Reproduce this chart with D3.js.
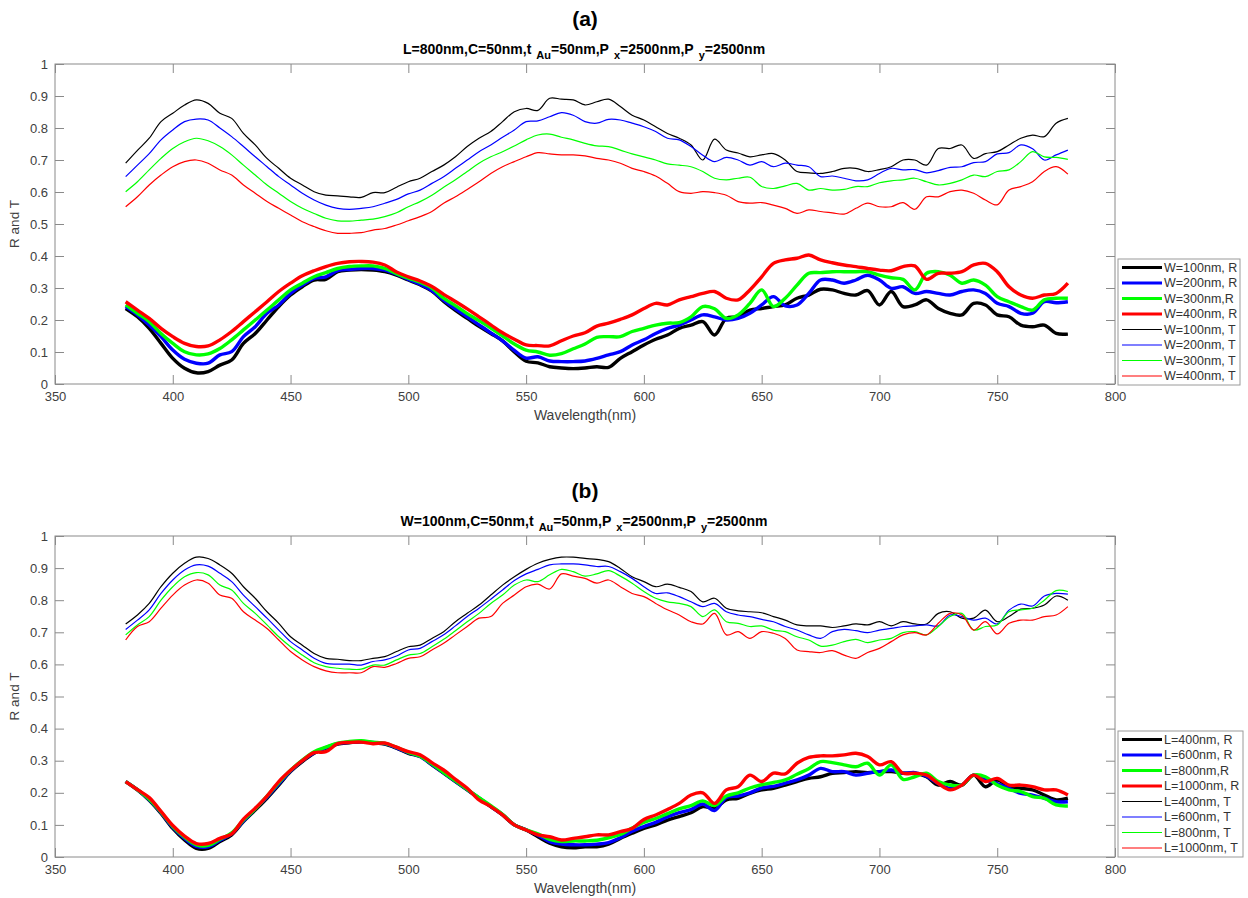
<!DOCTYPE html>
<html>
<head>
<meta charset="utf-8">
<script src="https://cdn.jsdelivr.net/npm/d3@7"></script>
<style>
body { margin: 0; background: #fff; }
svg { display: block; font-family: "Liberation Sans", Arial, sans-serif; }
</style>
</head>
<body>
<div id="fig"></div>
<script>
"use strict";
// longueurs d'onde communes (nm)
const wavelength = [380,385,390,395,400,405,410,415,420,425,430,435,440,445,450,455,460,465,470,475,
  480,485,490,495,500,505,510,515,520,525,530,535,540,545,550,555,560,565,570,575,
  580,585,590,595,600,605,610,615,620,625,630,635,640,645,650,655,660,665,670,675,
  680,685,690,695,700,705,710,715,720,725,730,735,740,745,750,755,760,765,770,775,780];
const xTicks = [350,400,450,500,550,600,650,700,750,800];
const yTicks = [0,0.1,0.2,0.3,0.4,0.5,0.6,0.7,0.8,0.9,1];
const yTickLabels = ["0","0.1","0.2","0.3","0.4","0.5","0.6","0.7","0.8","0.9","1"];
const seriesColors = ["#000000","#0000ff","#00ff00","#ff0000"];

// (a) variation de W
const legendA = ["W=100nm, R","W=200nm, R","W=300nm,R","W=400nm, R","W=100nm, T","W=200nm, T","W=300nm, T","W=400nm, T"];
const subtitleA = [["L=800nm,C=50nm,t",0],["Au",1],["=50nm,P",0],["x",1],["=2500nm,P",0],["y",1],["=2500nm",0]];
const wR100 = [.236,.21,.174,.127,.08,.049,.035,.039,.059,.075,.127,.158,.20,.242,.278,.304,.325,.327,.351,.356,
  .358,.356,.351,.34,.325,.31,.29,.258,.23,.205,.18,.158,.135,.1,.071,.066,.054,.05,.048,.05,
  .054,.052,.08,.101,.122,.14,.153,.174,.184,.195,.153,.205,.21,.231,.236,.242,.247,.268,.278,.296,
  .294,.283,.278,.292,.247,.289,.242,.247,.263,.236,.221,.216,.252,.247,.216,.21,.184,.179,.184,.158,.156];
const wR200 = [.242,.216,.184,.148,.106,.077,.065,.065,.091,.101,.148,.179,.221,.247,.283,.309,.33,.335,.354,.358,
  .361,.361,.356,.343,.327,.312,.292,.262,.235,.21,.185,.16,.135,.105,.081,.085,.072,.07,.07,.072,
  .08,.091,.101,.122,.138,.158,.174,.184,.20,.216,.21,.20,.205,.221,.247,.273,.244,.247,.283,.325,
  .325,.315,.325,.34,.325,.299,.304,.283,.289,.283,.278,.289,.294,.283,.252,.242,.221,.221,.257,.254,.257];
const wR300 = [.247,.221,.195,.158,.127,.101,.091,.094,.111,.138,.169,.20,.231,.263,.294,.315,.335,.348,.361,.367,
  .369,.369,.361,.345,.331,.318,.30,.268,.245,.22,.198,.175,.15,.125,.106,.10,.09,.095,.11,.125,
  .146,.148,.148,.164,.174,.184,.19,.192,.21,.242,.235,.205,.216,.252,.294,.242,.268,.309,.346,.348,
  .351,.351,.351,.351,.34,.332,.327,.294,.346,.351,.34,.315,.325,.309,.273,.257,.242,.231,.263,.268,.268];
const wR400 = [.257,.231,.205,.174,.148,.127,.117,.119,.138,.164,.195,.226,.257,.289,.315,.338,.354,.367,.377,.382,
  .383,.381,.372,.35,.335,.322,.305,.28,.258,.235,.21,.185,.16,.14,.122,.12,.119,.135,.15,.16,
  .181,.19,.202,.216,.236,.252,.247,.263,.273,.283,.289,.268,.263,.294,.335,.377,.388,.393,.403,.388,
  .379,.372,.367,.361,.356,.354,.367,.369,.327,.346,.346,.351,.372,.377,.351,.304,.278,.268,.278,.283,.315];
const wT100 = [.69,.73,.768,.82,.846,.872,.888,.877,.846,.83,.783,.747,.705,.674,.643,.622,.601,.59,.588,.585,
  .583,.598,.598,.615,.632,.643,.664,.684,.71,.742,.768,.789,.82,.851,.861,.855,.893,.89,.888,.872,
  .882,.89,.867,.84,.825,.804,.783,.768,.747,.70,.765,.731,.722,.71,.716,.72,.70,.664,.66,.658,
  .664,.674,.674,.664,.67,.679,.70,.70,.684,.736,.736,.747,.705,.72,.726,.747,.768,.778,.773,.815,.83];
const wT200 = [.648,.684,.72,.763,.794,.82,.828,.825,.80,.773,.742,.71,.679,.648,.622,.596,.575,.559,.549,.546,
  .549,.554,.565,.577,.594,.606,.627,.648,.674,.70,.726,.747,.771,.794,.82,.822,.835,.848,.84,.82,
  .815,.827,.825,.815,.804,.789,.768,.763,.742,.715,.695,.708,.70,.684,.695,.679,.69,.684,.679,.648,
  .65,.643,.635,.638,.658,.674,.669,.67,.66,.667,.677,.679,.692,.695,.719,.723,.747,.735,.70,.716,.731];
const wT300 = [.601,.632,.669,.705,.736,.757,.768,.76,.742,.716,.684,.653,.622,.596,.57,.549,.533,.518,.51,.509,
  .512,.515,.523,.535,.554,.57,.59,.615,.638,.664,.69,.71,.726,.744,.763,.778,.781,.771,.763,.752,
  .744,.742,.731,.719,.71,.70,.688,.684,.679,.664,.643,.638,.643,.646,.617,.611,.619,.627,.606,.611,
  .606,.608,.617,.617,.629,.635,.638,.643,.632,.622,.627,.638,.653,.648,.664,.669,.695,.726,.71,.708,.702];
const wT400 = [.554,.585,.622,.653,.679,.695,.70,.69,.669,.653,.622,.596,.57,.549,.528,.507,.492,.479,.471,.471,
  .473,.481,.486,.497,.51,.523,.539,.565,.585,.608,.632,.658,.679,.695,.71,.723,.719,.716,.716,.713,
  .705,.70,.69,.674,.664,.65,.627,.601,.596,.601,.598,.59,.57,.565,.567,.559,.549,.533,.544,.539,
  .535,.531,.549,.565,.554,.554,.567,.546,.585,.585,.601,.606,.596,.575,.56,.606,.617,.632,.664,.679,.656];

// (b) variation de L
const legendB = ["L=400nm, R","L=600nm, R","L=800nm,R","L=1000nm, R","L=400nm, T","L=600nm, T","L=800nm, T","L=1000nm, T"];
const subtitleB = [["W=100nm,C=50nm,t",0],["Au",1],["=50nm,P",0],["x",1],["=2500nm,P",0],["y",1],["=2500nm",0]];
const lR400 = [.235,.209,.177,.136,.089,.053,.027,.027,.048,.069,.11,.146,.183,.224,.266,.297,.323,.339,.352,.356,
  .359,.356,.352,.339,.323,.313,.287,.261,.235,.209,.183,.157,.131,.10,.084,.063,.043,.032,.029,.032,
  .032,.04,.058,.074,.089,.10,.115,.126,.138,.157,.152,.178,.183,.198,.209,.214,.224,.235,.245,.25,
  .261,.263,.266,.263,.266,.266,.261,.261,.25,.224,.235,.224,.255,.219,.24,.219,.214,.209,.193,.178,.183];
const lR600 = [.235,.21,.178,.138,.092,.058,.033,.032,.052,.073,.112,.15,.187,.228,.268,.30,.325,.341,.353,.357,
  .36,.357,.353,.34,.325,.313,.288,.262,.236,.21,.184,.158,.132,.10,.085,.068,.048,.04,.038,.038,
  .04,.045,.06,.08,.095,.108,.125,.138,.148,.165,.145,.185,.19,.20,.215,.22,.23,.24,.255,.276,
  .266,.266,.255,.261,.266,.271,.261,.263,.252,.229,.214,.224,.255,.24,.229,.214,.198,.193,.183,.172,.172];
const lR800 = [.235,.21,.18,.14,.095,.062,.038,.036,.055,.075,.115,.15,.19,.232,.27,.302,.328,.342,.355,.36,
  .362,.358,.354,.342,.326,.314,.29,.263,.237,.211,.185,.16,.133,.10,.085,.072,.055,.048,.05,.05,
  .052,.06,.07,.09,.108,.12,.135,.15,.16,.175,.16,.19,.20,.215,.225,.232,.24,.258,.275,.297,
  .294,.287,.281,.292,.255,.287,.242,.25,.261,.235,.224,.224,.255,.25,.224,.209,.204,.188,.183,.162,.159];
const lR1000 = [.235,.21,.185,.142,.098,.065,.042,.042,.058,.072,.118,.152,.19,.235,.27,.30,.325,.328,.353,.357,
  .358,.353,.355,.342,.328,.318,.294,.271,.242,.214,.178,.157,.131,.10,.084,.069,.063,.053,.058,.063,
  .069,.069,.079,.089,.117,.131,.148,.167,.193,.20,.167,.209,.219,.255,.235,.261,.259,.292,.31,.315,
  .315,.318,.323,.313,.287,.297,.261,.261,.255,.229,.209,.224,.255,.235,.245,.224,.224,.219,.209,.209,.193];
const lT400 = [.726,.754,.79,.842,.884,.915,.934,.93,.91,.884,.842,.806,.764,.728,.686,.66,.634,.619,.616,.612,
  .612,.619,.624,.64,.655,.66,.681,.702,.733,.759,.785,.816,.847,.873,.896,.915,.927,.934,.934,.93,
  .927,.92,.899,.873,.858,.842,.85,.84,.827,.795,.806,.775,.767,.764,.761,.749,.738,.723,.72,.72,
  .715,.72,.726,.723,.733,.72,.733,.726,.726,.759,.764,.744,.744,.769,.733,.749,.772,.775,.785,.813,.80];
const lT600 = [.709,.738,.77,.821,.863,.894,.91,.906,.884,.858,.816,.78,.744,.707,.671,.645,.619,.603,.601,.601,
  .598,.609,.614,.626,.645,.65,.671,.692,.72,.749,.775,.803,.832,.861,.882,.896,.91,.913,.913,.91,
  .905,.905,.889,.868,.842,.821,.823,.811,.795,.78,.79,.764,.754,.749,.74,.733,.718,.707,.692,.681,
  .702,.709,.705,.699,.707,.712,.718,.72,.723,.72,.754,.749,.738,.744,.726,.769,.788,.782,.813,.821,.819];
const lT800 = [.692,.723,.749,.80,.842,.873,.886,.879,.847,.832,.79,.759,.723,.686,.655,.629,.605,.593,.588,.585,
  .585,.598,.598,.614,.629,.634,.655,.678,.705,.733,.759,.79,.816,.847,.863,.858,.879,.896,.889,.875,
  .882,.892,.875,.853,.827,.806,.795,.79,.78,.749,.77,.733,.728,.718,.72,.707,.702,.686,.676,.657,
  .66,.671,.678,.668,.676,.681,.699,.702,.692,.718,.749,.759,.707,.718,.723,.764,.77,.775,.80,.83,.827];
const lT1000 = [.676,.718,.733,.775,.816,.847,.863,.853,.816,.806,.764,.738,.712,.676,.64,.614,.593,.58,.574,.574,
  .574,.593,.591,.603,.619,.624,.645,.666,.692,.718,.744,.749,.79,.816,.842,.85,.835,.882,.875,.868,
  .853,.863,.842,.821,.811,.79,.77,.754,.733,.726,.759,.692,.702,.681,.702,.697,.681,.645,.64,.637,
  .643,.629,.619,.637,.65,.671,.692,.699,.692,.728,.759,.754,.707,.733,.695,.728,.738,.738,.749,.754,.78];

const svg = d3.select("#fig").append("svg")
  .attr("width", 1248).attr("height", 898);

class panneauSpectre {
  constructor(params) {
    var me = this;
    this.top = params.top;
    this.height = params.height;
    this.g = svg.append("g").attr("transform", `translate(0,${me.top})`);
    this.x = d3.scaleLinear().domain([350, 800]).range([55, 1115]);
    this.y = d3.scaleLinear().domain([0, 1]).range([me.height, 0]);

    this.init = function () {
      var g = me.g, x = me.x, y = me.y;
      //cadre
      g.append("rect")
        .attr("x", x(350)).attr("y", y(1))
        .attr("width", x(800) - x(350)).attr("height", y(0) - y(1))
        .attr("fill", "#fff").attr("stroke", "#8a8a8a").attr("stroke-width", 1);

      //axes avec graduations intérieures
      const styleAxe = sel => {
        sel.select(".domain").remove();
        sel.selectAll(".tick line").attr("stroke", "#8a8a8a");
        sel.selectAll(".tick text").attr("fill", "#404040")
          .attr("font-family", '"Liberation Sans", Arial, sans-serif').attr("font-size", 13);
      };
      g.append("g").attr("transform", `translate(0,${y(0)})`)
        .call(d3.axisBottom(x).tickValues(xTicks).tickSize(-9).tickPadding(8).tickFormat(d3.format("d")))
        .call(styleAxe);
      g.append("g").attr("transform", `translate(0,${y(1)})`)
        .call(d3.axisTop(x).tickValues(xTicks).tickSize(-9).tickFormat(""))
        .call(styleAxe);
      g.append("g").attr("transform", `translate(${x(350)},0)`)
        .call(d3.axisLeft(y).tickValues(yTicks).tickSize(-9).tickPadding(7).tickFormat((d, i) => yTickLabels[i]))
        .call(styleAxe);
      g.append("g").attr("transform", `translate(${x(800)},0)`)
        .call(d3.axisRight(y).tickValues(yTicks).tickSize(-9).tickFormat(""))
        .call(styleAxe);

      //titres
      g.append("text")
        .attr("x", 585).attr("y", -38)
        .attr("text-anchor", "middle").attr("font-weight", "bold").attr("font-size", 21)
        .attr("fill", "#000").text(params.letter);
      let sous = g.append("text")
        .attr("x", 584).attr("y", -10)
        .attr("text-anchor", "middle").attr("font-weight", "bold").attr("font-size", 14)
        .attr("fill", "#000");
      sous.selectAll("tspan").data(params.subtitle).join("tspan")
        .attr("font-size", d => d[1] ? 11 : 14)
        .attr("dx", d => d[1] ? 5 : 0)
        .attr("dy", (d, i) => d[1] ? 5 : (i > 0 ? -5 : 0))
        .text(d => d[0]);

      g.append("text")
        .attr("x", 585).attr("y", y(0) + 36)
        .attr("text-anchor", "middle").attr("font-size", 14).attr("fill", "#404040")
        .text("Wavelength(nm)");
      g.append("text")
        .attr("transform", `translate(19,${(y(0) + y(1)) / 2}) rotate(-90)`)
        .attr("text-anchor", "middle").attr("font-size", 13.5).attr("fill", "#404040")
        .text("R and T");

      //courbes
      const ligne = d3.line()
        .x(d => x(d[0])).y(d => y(d[1]))
        .curve(d3.curveCatmullRom.alpha(0.5));
      params.series.forEach((vals, i) => {
        g.append("path")
          .datum(wavelength.map((w, j) => [w, vals[j]]))
          .attr("fill", "none")
          .attr("stroke", seriesColors[i % 4])
          .attr("stroke-width", i < 4 ? 3.4 : 1.2)
          .attr("stroke-linejoin", "round")
          .attr("d", ligne);
      });

      //légende
      let lg = g.append("g").attr("transform", `translate(1118,${params.legendY})`);
      lg.append("rect")
        .attr("width", params.legendW).attr("height", 126)
        .attr("fill", "#fff").attr("stroke", "#9a9a9a");
      let item = lg.selectAll(".leg").data(params.legend).join("g")
        .attr("class", "leg")
        .attr("transform", (d, i) => `translate(0,${8.5 + i * 15.5})`);
      item.append("line")
        .attr("x1", 4).attr("x2", 44)
        .attr("stroke", (d, i) => seriesColors[i % 4])
        .attr("stroke-width", (d, i) => i < 4 ? 3 : 1.2);
      item.append("text")
        .attr("x", 46).attr("dy", "0.35em")
        .attr("font-size", 12.5).attr("fill", "#333")
        .text(d => d);
    };

    this.init();
  }
}

new panneauSpectre({
  top: 64, height: 320, letter: "(a)", subtitle: subtitleA, legend: legendA,
  legendY: 259 - 64, legendW: 122,
  series: [wR100, wR200, wR300, wR400, wT100, wT200, wT300, wT400]
});
new panneauSpectre({
  top: 536, height: 321, letter: "(b)", subtitle: subtitleB, legend: legendB,
  legendY: 731 - 536, legendW: 125,
  series: [lR400, lR600, lR800, lR1000, lT400, lT600, lT800, lT1000]
});
</script>
</body>
</html>
